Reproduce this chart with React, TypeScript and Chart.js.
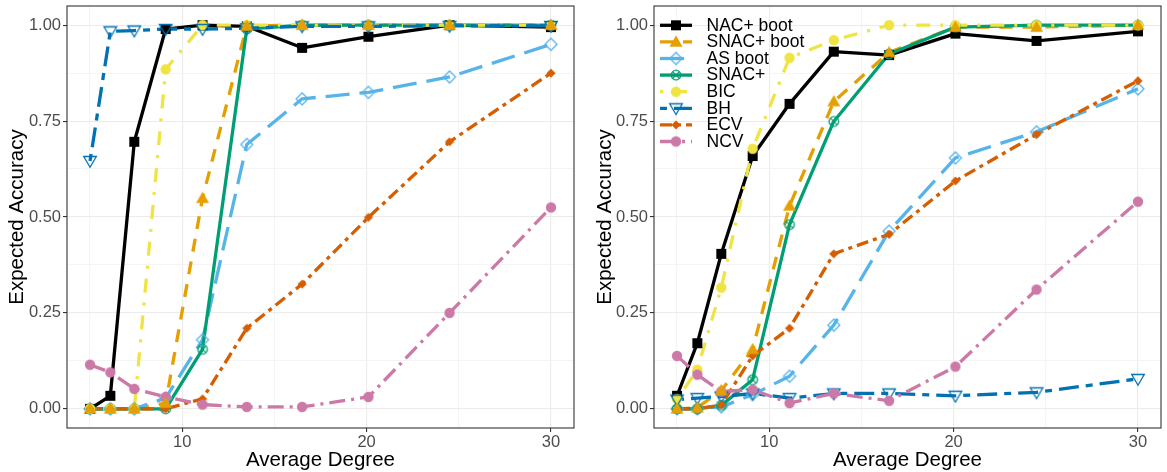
import React, { useEffect, useRef } from 'react';
import { Chart, registerables } from 'chart.js';

Chart.register(...registerables);

// ---------- data ----------
const degree = [5, 6.1, 7.4, 9.1, 11.1, 13.5, 16.5, 20.1, 24.5, 30];
const seriesNames = ['NAC+ boot', 'SNAC+ boot', 'AS boot', 'SNAC+', 'BIC', 'BH', 'ECV', 'NCV'];
const xTickLabels = [10, 20, 30];
const yTickLabels = [0, 0.25, 0.5, 0.75, 1];

// left panel
const nacBootL = [0.0, 0.034, 0.696, 0.99, 1.0, 0.997, 0.941, 0.97, 1.0, 0.995];
const snacBootL = [0, 0, 0, 0.015, 0.549, 0.998, 1, 1, 1, 1];
const asBootL = [0, 0, 0, 0.028, 0.18, 0.689, 0.808, 0.825, 0.865, 0.95];
const snacL = [0, 0, 0, 0, 0.155, 0.99, 1, 1, 1, 1];
const bicL = [0, 0, 0, 0.885, 1, 1, 1, 1, 1, 1];
const bhL = [0.646, 0.984, 0.986, 0.99, 0.99, 0.992, 0.997, 0.997, 0.998, 0.998];
const ecvL = [0, 0, 0, 0, 0.026, 0.21, 0.325, 0.499, 0.696, 0.875];
const ncvL = [0.115, 0.095, 0.052, 0.031, 0.011, 0.005, 0.005, 0.031, 0.25, 0.525];

// right panel
const nacBootR = [0.034, 0.171, 0.404, 0.659, 0.795, 0.931, 0.922, 0.978, 0.959, 0.984];
const snacBootR = [0.0, 0.003, 0.048, 0.155, 0.529, 0.801, 0.929, 0.995, 0.995, 1.0];
const asBootR = [0, 0, 0.005, 0.037, 0.085, 0.218, 0.463, 0.654, 0.722, 0.834];
const snacR = [0, 0, 0.009, 0.076, 0.48, 0.749, 0.925, 0.995, 1, 1];
const bicR = [0.025, 0.102, 0.316, 0.678, 0.915, 0.961, 1, 1, 1, 1];
const bhR = [0.024, 0.028, 0.032, 0.04, 0.028, 0.04, 0.04, 0.034, 0.043, 0.078];
const ecvR = [0, 0, 0.01, 0.138, 0.21, 0.404, 0.455, 0.594, 0.715, 0.855];
const ncvR = [0.138, 0.089, 0.045, 0.05, 0.015, 0.04, 0.021, 0.11, 0.311, 0.54];

const leftSeries = [nacBootL, snacBootL, asBootL, snacL, bicL, bhL, ecvL, ncvL];
const rightSeries = [nacBootR, snacBootR, asBootR, snacR, bicR, bhR, ecvR, ncvR];

// ---------- styles ----------
const colors = ['#000000', '#E69F00', '#56B4E9', '#009E73', '#F0E442', '#0072B2', '#D55E00', '#CC79A7'];
const dashes: number[][] = [[], [13, 10], [24, 10], [], [3, 10, 14, 10], [7, 7, 20, 7], [12, 5, 4, 5], [16, 6, 3, 6]];
const markers = ['square', 'triUp', 'diamondOpen', 'circleX', 'circle', 'triDownOpen', 'diamond', 'circle'];
const LINE_W = 3.3;
const FONT = '"Liberation Sans", Arial, sans-serif';

function makeMarker(kind: string, color: string): HTMLCanvasElement {
  const c = document.createElement('canvas');
  c.width = 18;
  c.height = 18;
  const g = c.getContext('2d')!;
  const x = 9, y = 9;
  g.fillStyle = color;
  g.strokeStyle = color;
  g.lineWidth = 1.3;
  g.beginPath();
  if (kind === 'square') {
    g.fillRect(x - 5, y - 5, 10, 10);
  } else if (kind === 'triUp') {
    g.moveTo(x, y - 6.5);
    g.lineTo(x + 6.5, y + 4.8);
    g.lineTo(x - 6.5, y + 4.8);
    g.closePath();
    g.fill();
  } else if (kind === 'diamondOpen') {
    g.moveTo(x, y - 6);
    g.lineTo(x + 6, y);
    g.lineTo(x, y + 6);
    g.lineTo(x - 6, y);
    g.closePath();
    g.stroke();
  } else if (kind === 'circleX') {
    g.arc(x, y, 4.8, 0, Math.PI * 2);
    g.stroke();
    const d = 4.8 / Math.SQRT2;
    g.beginPath();
    g.moveTo(x - d, y - d);
    g.lineTo(x + d, y + d);
    g.moveTo(x + d, y - d);
    g.lineTo(x - d, y + d);
    g.stroke();
  } else if (kind === 'circle') {
    g.arc(x, y, 5.2, 0, Math.PI * 2);
    g.fill();
  } else if (kind === 'triDownOpen') {
    g.moveTo(x - 6.3, y - 4.5);
    g.lineTo(x + 6.3, y - 4.5);
    g.lineTo(x, y + 6.3);
    g.closePath();
    g.stroke();
  } else if (kind === 'diamond') {
    g.moveTo(x, y - 4.6);
    g.lineTo(x + 4.6, y);
    g.lineTo(x, y + 4.6);
    g.lineTo(x - 4.6, y);
    g.closePath();
    g.fill();
  }
  return c;
}

const isMajorY = (v: number) => yTickLabels.some((t) => Math.abs(t - v) < 1e-9);
const isMajorX = (v: number) => xTickLabels.some((t) => Math.abs(t - v) < 1e-9);

const borderPlugin = {
  id: 'panelBorder',
  afterDraw(chart: any) {
    const { ctx, chartArea: a } = chart;
    ctx.save();
    ctx.strokeStyle = '#333333';
    ctx.lineWidth = 1.1;
    ctx.strokeRect(a.left, a.top, a.right - a.left, a.bottom - a.top);
    ctx.restore();
  },
};

const legendPlugin = {
  id: 'ggLegend',
  afterDraw(chart: any, _args: any, opts: any) {
    if (!opts || !opts.show) return;
    const { ctx, chartArea: a } = chart;
    const imgs = opts.imgs as HTMLCanvasElement[];
    const x0 = a.left + 6;
    const x1 = a.left + 38;
    const xm = (x0 + x1) / 2;
    const xt = a.left + 52.5;
    seriesNames.forEach((name, i) => {
      const y = a.top + 19.3 + i * 16.6;
      ctx.save();
      ctx.strokeStyle = colors[i];
      ctx.lineWidth = LINE_W;
      ctx.lineCap = 'butt';
      ctx.setLineDash(dashes[i]);
      ctx.beginPath();
      ctx.moveTo(x0, y);
      ctx.lineTo(x1, y);
      ctx.stroke();
      ctx.setLineDash([]);
      ctx.drawImage(imgs[i], xm - 9, y - 9);
      ctx.fillStyle = '#000000';
      ctx.font = `17.5px ${FONT}`;
      ctx.textBaseline = 'middle';
      ctx.textAlign = 'left';
      ctx.fillText(name, xt, y + 0.5);
      ctx.restore();
    });
  },
};

function buildChart(canvas: HTMLCanvasElement, series: number[][], yWidth: number, padRight: number, yTitlePad: number, showLegend: boolean) {
  const imgs = colors.map((c, i) => makeMarker(markers[i], c));
  const datasets: any[] = [];
  series.forEach((vals, i) => {
    datasets.push({
      label: seriesNames[i] + ' line',
      data: degree.map((d, k) => ({ x: d, y: vals[k] })),
      borderColor: colors[i],
      backgroundColor: colors[i],
      borderWidth: LINE_W,
      borderDash: dashes[i],
      borderCapStyle: 'butt',
      borderJoinStyle: 'round',
      pointRadius: 0,
      tension: 0,
      fill: false,
      order: 100 + (7 - i),
    });
  });
  series.forEach((vals, i) => {
    datasets.push({
      label: seriesNames[i],
      data: degree.map((d, k) => ({ x: d, y: vals[k] })),
      showLine: false,
      borderColor: colors[i],
      backgroundColor: colors[i],
      pointStyle: imgs[i],
      pointRadius: 5,
      order: i === 1 ? 0 : 10 + (7 - i),
    });
  });

  return new Chart(canvas, {
    type: 'line',
    data: { datasets },
    plugins: [borderPlugin, legendPlugin],
    options: {
      responsive: false,
      animation: false,
      layout: { padding: { left: 0, top: 4, right: padRight, bottom: 0 } },
      plugins: {
        legend: { display: false },
        tooltip: { enabled: false },
        ggLegend: { show: showLegend, imgs },
      } as any,
      scales: {
        x: {
          type: 'linear',
          min: 3.75,
          max: 31.25,
          border: { display: false },
          grid: {
            color: (c: any) => (isMajorX(c.tick.value) ? '#ebebeb' : '#f4f4f4'),
            lineWidth: 1.1,
            drawTicks: true,
            tickLength: 4,
            tickColor: (c: any) => (isMajorX(c.tick.value) ? '#333333' : 'rgba(0,0,0,0)'),
            tickWidth: 1.1,
          },
          ticks: {
            stepSize: 5,
            includeBounds: false,
            autoSkip: false,
            maxRotation: 0,
            padding: 1,
            color: '#4d4d4d',
            font: { family: FONT, size: 16.5 },
            callback: (v: any) => (isMajorX(Number(v)) ? String(Number(v)) : ''),
          },
          title: {
            display: true,
            text: 'Average Degree',
            color: '#000000',
            font: { family: FONT, size: 20.5, lineHeight: 1 },
            padding: { top: 0, bottom: 1.8 },
          },
          afterFit: (s: any) => {
            s.height = 44;
            s.paddingLeft = 0;
            s.paddingRight = 0;
          },
        },
        y: {
          type: 'linear',
          min: -0.05,
          max: 1.05,
          border: { display: false },
          grid: {
            color: (c: any) => (isMajorY(c.tick.value) ? '#ebebeb' : '#f4f4f4'),
            lineWidth: 1.1,
            drawTicks: true,
            tickLength: 4,
            tickColor: (c: any) => (isMajorY(c.tick.value) ? '#333333' : 'rgba(0,0,0,0)'),
            tickWidth: 1.1,
          },
          ticks: {
            stepSize: 0.125,
            includeBounds: false,
            autoSkip: false,
            padding: 2,
            color: '#4d4d4d',
            font: { family: FONT, size: 16.5 },
            callback: (v: any) => (isMajorY(Number(v)) ? Number(v).toFixed(2) : ''),
          },
          title: {
            display: true,
            text: 'Expected Accuracy',
            color: '#000000',
            font: { family: FONT, size: 20.5, lineHeight: 1 },
            padding: { top: yTitlePad, bottom: 0 },
          },
          afterFit: (s: any) => {
            s.width = yWidth;
            s.paddingTop = 0;
            s.paddingBottom = 0;
          },
        },
      },
    } as any,
  });
}

export default function App() {
  const leftRef = useRef<HTMLCanvasElement>(null);
  const rightRef = useRef<HTMLCanvasElement>(null);

  useEffect(() => {
    const c1 = buildChart(leftRef.current!, leftSeries, 67, 4, 6.7, false);
    const c2 = buildChart(rightRef.current!, rightSeries, 74, 3, 14.7, true);
    return () => {
      c1.destroy();
      c2.destroy();
    };
  }, []);

  return (
    <div style={{ position: 'absolute', left: 0, top: 0, width: 1167, height: 472, background: '#ffffff' }}>
      <canvas ref={leftRef} width={580} height={472} style={{ position: 'absolute', left: 0, top: 0, width: 580, height: 472 }} />
      <canvas ref={rightRef} width={587} height={472} style={{ position: 'absolute', left: 580, top: 0, width: 587, height: 472 }} />
    </div>
  );
}
